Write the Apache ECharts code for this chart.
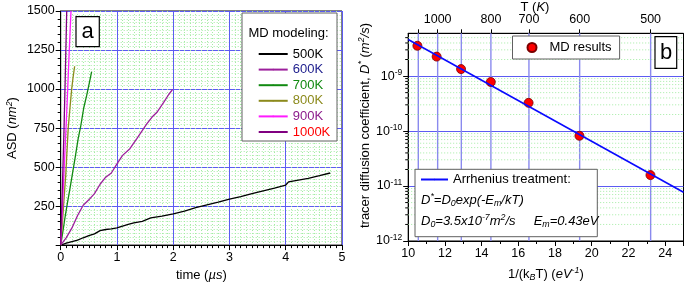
<!DOCTYPE html>
<html>
<head>
<meta charset="utf-8">
<script src="https://cdn.jsdelivr.net/npm/echarts@6/dist/echarts.min.js"></script>
<style>
  html, body { margin: 0; padding: 0; background: #fff; }
  #chart { width: 685px; height: 287px; }
</style>
</head>
<body>
<div id="chart"></div>
<script>
const kB = 8.617e-5
const FONT = '"Liberation Sans", Arial, sans-serif'

// panel a: ASD (nm^2) against time (us), one curve per temperature
const tempNames = ['500K', '600K', '700K', '800K', '900K', '1000K']
const lineColors = ['#000000', '#9c1f9c', '#118a11', '#8c8a1c', '#ff1aff', '#800080']
const labelColors = ['#000000', '#1c1c8c', '#118a11', '#8c8a1c', '#8c1c8c', '#ff0000']
const asd500 = [[0, 0], [0.1, 12], [0.2, 22], [0.3, 32], [0.4, 47], [0.5, 60], [0.6, 72], [0.7, 93],
  [0.8, 100], [0.9, 104], [1.0, 110], [1.1, 122], [1.2, 133], [1.3, 142], [1.45, 152], [1.6, 174],
  [1.8, 186], [2.0, 200], [2.2, 218], [2.4, 240], [2.6, 258], [2.8, 275], [3.0, 294], [3.2, 310],
  [3.4, 330], [3.6, 348], [3.8, 365], [4.0, 385], [4.05, 405], [4.2, 415], [4.4, 428], [4.6, 445], [4.79, 462]]
const asd600 = [[0, 0], [0.1, 48], [0.2, 110], [0.3, 190], [0.4, 255], [0.5, 290], [0.6, 330], [0.7, 390],
  [0.8, 435], [0.9, 462], [1.0, 520], [1.1, 575], [1.23, 618], [1.35, 681], [1.47, 745], [1.53, 777],
  [1.62, 819], [1.71, 851], [1.83, 914], [1.92, 965], [1.99, 998]]
const asd700 = [[0, 0], [0.04, 90], [0.08, 185], [0.12, 270], [0.165, 364], [0.21, 460], [0.254, 554],
  [0.31, 681], [0.355, 760], [0.41, 880], [0.46, 956], [0.51, 1041], [0.55, 1112]]
const asd800 = [[0, 0], [0.03, 140], [0.06, 300], [0.09, 450], [0.11, 590], [0.135, 756], [0.165, 880],
  [0.195, 999], [0.22, 1075], [0.248, 1146]]
const asd900 = [[0, 0], [0.03, 230], [0.06, 480], [0.094, 744], [0.12, 960], [0.15, 1230], [0.183, 1500]]
const asd1000 = [[0, 0], [0.02, 250], [0.04, 500], [0.059, 744], [0.08, 1060], [0.107, 1500]]
const asdCurves = [asd500, asd600, asd700, asd800, asd900, asd1000]

// panel b: tracer diffusion coefficient against 1/(kB T)
const invKT = [10.5, 11.55, 12.88, 14.5, 16.56, 19.33, 23.2]
const diffD = [3.56e-9, 2.26e-9, 1.34e-9, 7.8e-10, 3.26e-10, 8.2e-11, 1.58e-11]
const fitX = [10, 25]
const fitD = [4.64e-9, 7.7e-12]
const tempTicks = [1100, 1000, 900, 800, 700, 600, 500]
const tempLabels = [1000, 800, 700, 600, 500]
const decades = [-12, -11, -10, -9]
const minorMult = [2, 3, 4, 5, 6, 7, 8, 9]

const yMinB = 1e-12
const yMaxB = 6e-9
const minorD = []
decades.forEach(e => minorMult.forEach(m => {
  const v = m * Math.pow(10, e)
  if (v < yMaxB) minorD.push(v)
}))

function rich(size) {
  return {
    n: { fontSize: size, lineHeight: 16, fontFamily: FONT, color: '#000' },
    i: { fontSize: size, lineHeight: 16, fontStyle: 'italic', fontFamily: FONT, color: '#000' },
    sup: { fontSize: size * 0.68, lineHeight: 6, verticalAlign: 'top', fontFamily: FONT, color: '#000' },
    isup: { fontSize: size * 0.68, lineHeight: 6, verticalAlign: 'top', fontStyle: 'italic', fontFamily: FONT, color: '#000' },
    sub: { fontSize: size * 0.68, lineHeight: 6, verticalAlign: 'bottom', fontStyle: 'italic', fontFamily: FONT, color: '#000' }
  }
}

const majorBlue = { color: '#5c5cf2', width: 1 }
const minorGreen = { color: '#a4eca4', width: 1, type: [1, 2] }
const tickLabel = { fontSize: 12.5, color: '#000', fontFamily: FONT }

const option = {
  animation: false,
  grid: [
    { left: 60.7, top: 11, width: 281.3, height: 236.4, show: true, borderColor: '#000', borderWidth: 1, backgroundColor: '#fff' },
    { left: 408.2, top: 33.3, width: 275.3, height: 209.4, show: true, borderColor: '#000', borderWidth: 1, backgroundColor: '#fff' }
  ],
  xAxis: [
    {
      gridIndex: 0, type: 'value', min: 0, max: 5, interval: 1,
      axisLine: { lineStyle: { color: '#000' } },
      axisTick: { length: 5, lineStyle: { color: '#000' } },
      minorTick: { show: true, splitNumber: 10, length: 3, lineStyle: { color: '#000' } },
      splitLine: { show: true, lineStyle: majorBlue },
      minorSplitLine: { show: true, lineStyle: minorGreen },
      axisLabel: Object.assign({ margin: 6 }, tickLabel),
      name: '{n|time (}{i|µs}{n|)}', nameLocation: 'middle', nameGap: 21,
      nameTextStyle: { rich: rich(13) }
    },
    {
      gridIndex: 1, type: 'value', min: 10, max: 25, interval: 2,
      axisLine: { lineStyle: { color: '#000' } },
      axisTick: { length: 5, lineStyle: { color: '#000' } },
      minorTick: { show: true, splitNumber: 2, length: 3, lineStyle: { color: '#000' } },
      splitLine: { show: false },
      axisLabel: Object.assign({ margin: 6, showMaxLabel: false }, tickLabel),
      name: '{n|1/(k}{sub|B}{n|T) (}{i|eV}{isup|-1}{n|)}', nameLocation: 'middle', nameGap: 25,
      nameTextStyle: { rich: rich(13) }
    },
    {
      gridIndex: 1, type: 'value', min: 10, max: 25, position: 'top',
      axisLine: { lineStyle: { color: '#000' } },
      axisTick: { length: 4, customValues: tempTicks.map(t => 1 / (kB * t)), lineStyle: { color: '#000' } },
      splitLine: { show: false },
      axisLabel: Object.assign({
        margin: 7,
        customValues: tempLabels.map(t => 1 / (kB * t)),
        formatter: v => String(Math.round(1 / (kB * v)))
      }, tickLabel)
    }
  ],
  yAxis: [
    {
      gridIndex: 0, type: 'value', min: 0, max: 1500, interval: 250,
      axisLine: { show: true, lineStyle: { color: '#000' } },
      axisTick: { show: true, length: 5, lineStyle: { color: '#000' } },
      minorTick: { show: true, splitNumber: 5, length: 3, lineStyle: { color: '#000' } },
      splitLine: { show: true, lineStyle: majorBlue },
      axisLabel: Object.assign({ margin: 6, showMinLabel: false, formatter: v => String(v) }, tickLabel),
      name: '{n|ASD (}{i|nm}{isup|2}{n|)}', nameLocation: 'middle', nameGap: 40,
      nameTextStyle: { rich: rich(13) }
    },
    {
      // only carries the finer dotted grid
      gridIndex: 0, type: 'value', min: 0, max: 1500, interval: 250,
      axisLine: { show: false }, axisTick: { show: false }, axisLabel: { show: false },
      splitLine: { show: false },
      minorTick: { show: false, splitNumber: 10 },
      minorSplitLine: { show: true, lineStyle: minorGreen }
    },
    {
      gridIndex: 1, type: 'log', min: yMinB, max: yMaxB,
      axisLine: { show: true, lineStyle: { color: '#000' } },
      axisTick: { show: true, length: 5, lineStyle: { color: '#000' } },
      splitLine: { show: true, lineStyle: majorBlue },
      axisLabel: {
        margin: 6, showMaxLabel: false,
        formatter: v => '{b|10}{e|' + Math.round(Math.log10(v)) + '}',
        rich: {
          b: { fontSize: 12.5, lineHeight: 16, fontFamily: FONT, color: '#000' },
          e: { fontSize: 8.5, lineHeight: 6, verticalAlign: 'top', fontFamily: FONT, color: '#000' }
        }
      }
    }
  ],
  legend: [
    {
      left: 252.7, top: 41.2, orient: 'vertical', itemWidth: 29, itemHeight: 2, itemGap: 0,
      selectedMode: false, z: 10,
      textStyle: { fontSize: 13, lineHeight: 15.6, fontFamily: FONT },
      data: tempNames.map((name, k) => ({ name, textStyle: { color: labelColors[k] } }))
    },
    {
      left: 512.5, top: 36, orient: 'horizontal', itemWidth: 25, itemHeight: 9,
      padding: [5, 8, 5, 14], borderColor: '#606060', borderWidth: 1, backgroundColor: '#fff',
      selectedMode: false, z: 10,
      textStyle: { fontSize: 13, fontFamily: FONT, color: '#000' },
      data: ['MD results']
    },
    {
      left: 420, top: 173, itemWidth: 27, itemHeight: 2, padding: 0,
      selectedMode: false, z: 10,
      textStyle: { fontSize: 13, fontFamily: FONT, color: '#000' },
      data: ['Arrhenius treatment:']
    }
  ],
  graphic: [
    { type: 'rect', z: 5, shape: { x: 242, y: 13, width: 95, height: 128 }, style: { fill: '#fff', stroke: '#606060', lineWidth: 1 } },
    { type: 'text', z: 6, style: { x: 288.5, y: 33, text: 'MD modeling:', align: 'center', verticalAlign: 'middle', font: '13px ' + FONT, fill: '#000' } },
    { type: 'rect', z: 5, shape: { x: 76, y: 16.7, width: 23.3, height: 30 }, style: { fill: '#fff', stroke: '#000', lineWidth: 1.2 } },
    { type: 'text', z: 6, style: { x: 87.7, y: 31.5, text: 'a', align: 'center', verticalAlign: 'middle', font: '22px ' + FONT, fill: '#000' } },
    { type: 'rect', z: 5, shape: { x: 655, y: 36.7, width: 21.7, height: 31.6 }, style: { fill: '#fff', stroke: '#000', lineWidth: 1.2 } },
    { type: 'text', z: 6, style: { x: 666, y: 52.5, text: 'b', align: 'center', verticalAlign: 'middle', font: '22px ' + FONT, fill: '#000' } },
    { type: 'rect', z: 5, shape: { x: 415, y: 169.3, width: 182.3, height: 67.4 }, style: { fill: '#fff', stroke: '#606060', lineWidth: 1 } },
    {
      type: 'text', z: 6,
      style: { x: 421, y: 200, verticalAlign: 'middle', rich: rich(13),
        text: '{i|D}{isup|*}{i|=D}{sub|0}{i|exp(-E}{sub|m}{i|/kT)}' }
    },
    {
      type: 'text', z: 6,
      style: { x: 421, y: 221, verticalAlign: 'middle', rich: rich(13),
        text: '{i|D}{sub|0}{i|=3.5x10}{isup|-7}{i|m}{isup|2}{i|/s     E}{sub|m}{i|=0.43eV}' }
    },
    {
      type: 'text', z: 6,
      style: { x: 535, y: 7, align: 'center', verticalAlign: 'middle', rich: rich(13), text: '{n|T (}{i|K}{n|)}' }
    },
    {
      type: 'text', z: 6, rotation: Math.PI / 2, x: 365, y: 125.5,
      style: { x: 0, y: 0, align: 'center', verticalAlign: 'middle', rich: rich(13),
        text: '{n|tracer diffusion coefficient, }{i|D}{isup|*}{n| (}{i|m}{isup|2}{i|/s}{n|)}' }
    }
  ],
  series: [
    ...tempNames.map((name, k) => ({
      name, type: 'line', xAxisIndex: 0, yAxisIndex: 0, data: asdCurves[k],
      symbol: 'none', z: 3, silent: true,
      itemStyle: { color: lineColors[k] },
      lineStyle: { color: lineColors[k], width: 1.3 }
    })),
    {
      // vertical lines at the temperature ticks
      type: 'custom', xAxisIndex: 1, yAxisIndex: 2, z: 1, silent: true,
      data: tempTicks.map(t => [1 / (kB * t), 1e-10]),
      renderItem: (params, api) => {
        const a = api.coord([api.value(0), yMaxB])
        const b = api.coord([api.value(0), yMinB])
        return { type: 'line', shape: { x1: a[0], y1: a[1], x2: b[0], y2: b[1] }, style: { stroke: '#8a8aee', lineWidth: 1.4 } }
      }
    },
    {
      // log minor grid and ticks
      type: 'custom', xAxisIndex: 1, yAxisIndex: 2, z: 1, silent: true,
      data: minorD.map(v => [10, v]),
      renderItem: (params, api) => {
        const a = api.coord([10, api.value(1)])
        const b = api.coord([25, api.value(1)])
        return {
          type: 'group',
          children: [
            { type: 'line', shape: { x1: a[0], y1: a[1], x2: b[0], y2: b[1] }, style: { stroke: '#a4eca4', lineWidth: 1, lineDash: [1, 2] } },
            { type: 'line', shape: { x1: a[0] - 3, y1: a[1], x2: a[0], y2: a[1] }, style: { stroke: '#000', lineWidth: 1 } }
          ]
        }
      }
    },
    {
      name: 'MD results', type: 'scatter', xAxisIndex: 1, yAxisIndex: 2, z: 3, silent: true,
      data: invKT.map((x, k) => [x, diffD[k]]),
      symbol: 'circle', symbolSize: 9,
      itemStyle: { color: '#ff0000', borderColor: '#7a0000', borderWidth: 0.8, opacity: 1 }
    },
    {
      name: 'Arrhenius treatment:', type: 'line', xAxisIndex: 1, yAxisIndex: 2, z: 4, silent: true,
      data: fitX.map((x, k) => [x, fitD[k]]),
      symbol: 'none',
      itemStyle: { color: '#0a0aff' },
      lineStyle: { color: '#0a0aff', width: 1.6 }
    }
  ]
}

const myChart = echarts.init(document.getElementById('chart'), null, { renderer: 'canvas' })
myChart.setOption(option)
</script>
</body>
</html>
